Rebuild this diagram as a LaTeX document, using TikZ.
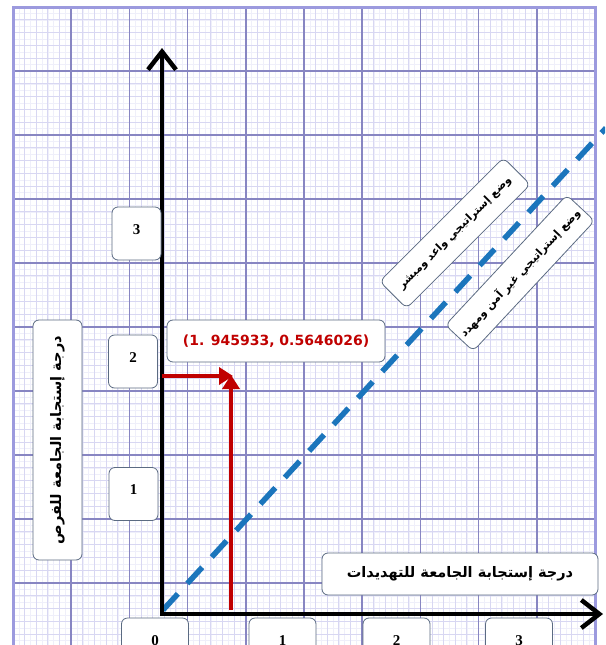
\documentclass[tikz,border=0pt]{standalone}
\usepackage{fontspec}
\setmainfont{Liberation Serif}
\newfontfamily\arabicfont[Script=Arabic]{DejaVu Sans}
\newfontfamily\pointfont{DejaVu Sans}
\TeXXeTstate=1
\usetikzlibrary{arrows.meta,positioning}
\definecolor{gridmajor}{HTML}{8886C2}
\definecolor{gridmid}{HTML}{D8D7F2}
\definecolor{gridfine}{HTML}{EFEFFA}
\definecolor{gridedge}{HTML}{9C9ADE}
\definecolor{boxline}{HTML}{5B6B82}
\definecolor{ptred}{HTML}{C00000}
\definecolor{diagblue}{HTML}{1B75BC}
\tikzset{
  box/.style={draw=boxline,fill=white,rounded corners=6pt,line width=0.8pt},
  ytick/.style={box,inner sep=0pt,minimum width=49pt,text height=27pt,text depth=26pt,font=\fontsize{15}{15}\selectfont\bfseries},
  xtick/.style={ytick,minimum width=67pt},
  arabic/.style={font=\arabicfont\bfseries\fontsize{14.5}{14.5}\selectfont},
  zonetext/.style={font=\arabicfont\bfseries\fontsize{11}{11}\selectfont},
  axis/.style={line width=4.5pt,-{Straight Barb[length=18pt,width=28pt,line width=4.5pt]}},
  redarrow/.style={draw=ptred,line width=4pt,-{Triangle[length=14pt,width=17pt]},ptred},
}

\begin{document}
\begin{tikzpicture}[x=1pt,y=-1pt]
  \useasboundingbox (0,0) rectangle (605,645);
  \clip (0,0) rectangle (605,645);
  \fill[white] (0,0) rectangle (605,645);
  % graph paper
  \foreach \i in {0,...,100}
    \draw[gridfine,line width=0.5pt] ({13+5.82*\i},7) -- ({13+5.82*\i},645);
  \foreach \j in {0,...,100}
    \draw[gridfine,line width=0.5pt] (13,{7+6.4*\j}) -- (595,{7+6.4*\j});
  \foreach \i in {0,...,50}
    \draw[gridmid,line width=1pt] ({13+11.64*\i},7) -- ({13+11.64*\i},645);
  \foreach \j in {0,...,50}
    \draw[gridmid,line width=1pt] (13,{7+12.8*\j}) -- (595,{7+12.8*\j});
  \foreach \i in {0,...,10}
    \draw[gridmajor,line width=1.5pt] ({13+58.2*\i},7) -- ({13+58.2*\i},645);
  \foreach \j in {0,...,10}
    \draw[gridmajor,line width=1.5pt] (13,{7+64*\j}) -- (595,{7+64*\j});
  \draw[gridedge,line width=3pt] (13,645) -- (13,7) -- (595,7) -- (595,645);
  % diagonal
  \coordinate (D1) at (163,610);
  \coordinate (D2) at (606,128);
  \draw[diagblue,line width=5.5pt,dash pattern=on 22pt off 14pt] (D1) -- (D2);
  % axes
  \coordinate (O) at (162,614);
  \coordinate (Ytip) at (162,48);
  \coordinate (Xtip) at (603,614);
  \draw[axis] ([yshift=2pt]O) -- (Ytip);
  \draw[axis] ([xshift=-2pt]O) -- (Xtip);
  % point
  \coordinate (P) at (233,376);
  \coordinate (Py) at (162,376);
  \coordinate (Px) at (231,610);
  \draw[redarrow] (Py) -- (P);
  \draw[redarrow] (Px) -- ([xshift=-2pt,yshift=1pt]P);
  % labels
  \node[ytick] (y3) at (136.5,233.5) {3};
  \node[ytick] (y2) at (133,361.5) {2};
  \node[ytick] (y1) at (133.5,494) {1};
  \node[xtick] (x0) at (155,644.5) {0};
  \node[xtick] (x1) at (282.5,644.5) {1};
  \node[xtick] (x2) at (396.5,644.5) {2};
  \node[xtick] (x3) at (519,644.5) {3};
  \node[box,arabic,rotate=90,minimum width=240pt,minimum height=49pt] (ytitle) at (57.5,440)
    {\beginR درجة إستجابة الجامعة للفرص\endR};
  \node[box,arabic,minimum width=276pt,minimum height=42pt] (xtitle) at (460,574)
    {\beginR درجة إستجابة الجامعة للتهديدات\endR};
  \node[box,minimum width=218pt,minimum height=42pt,text=ptred,font=\pointfont\bfseries\fontsize{14}{14}\selectfont] (ptlabel) at (276,341)
    {(1. 945933, 0.5646026)};
  \node[box,zonetext,rotate=45,minimum width=175pt,minimum height=38pt] (zone1) at (455,233)
    {\beginR وضع إستراتيجي واعد ومبشر\endR};
  \node[box,zonetext,rotate=47,minimum width=178pt,minimum height=38pt] (zone2) at (520,273)
    {\beginR وضع إستراتيجي غير آمن ومهدد\endR};
\end{tikzpicture}
\end{document}
